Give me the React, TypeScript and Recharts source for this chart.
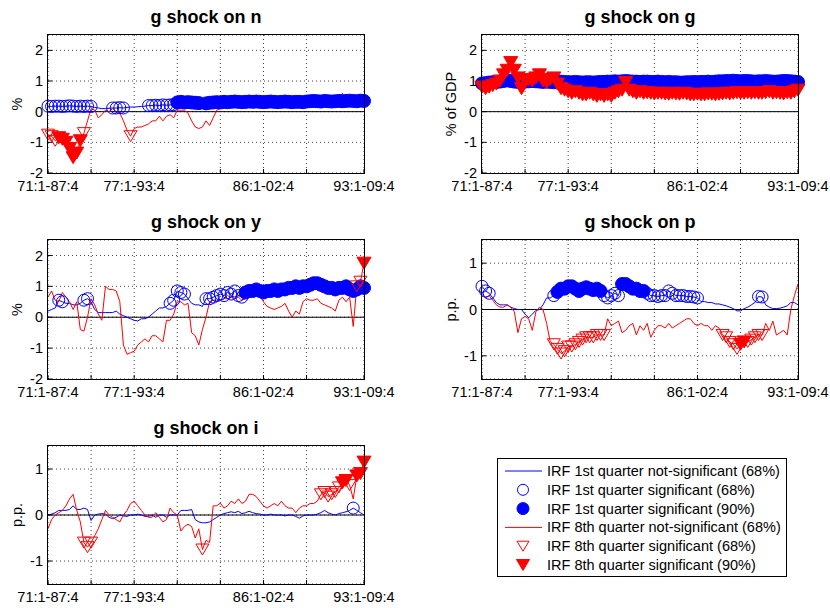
import React from 'react';
import { LineChart, Line, XAxis, YAxis, CartesianGrid, ReferenceLine } from 'recharts';

// Rolling windows 71:1-87:4 ... 93:1-09:4 (89 windows, one per quarter)
const windowIdx = Array.from({ length: 89 }, (_, i) => i);
const xTickIdx = [0, 12, 24, 36, 48, 60, 72, 88];
const xTickText = ['71:1-87:4', '', '77:1-93:4', '', '', '86:1-02:4', '', '93:1-09:4'];

// g shock on n
const nBlue = [
  0.18, 0.17, 0.18, 0.18, 0.17, 0.18, 0.19, 0.18, 0.17, 0.18,
  0.17, 0.18, 0.17, 0.14, 0.12, 0.1, 0.1, 0.11, 0.12, 0.12,
  0.13, 0.12, 0.14, 0.15, 0.15, 0.16, 0.17, 0.18, 0.2, 0.2,
  0.21, 0.2, 0.22, 0.21, 0.22, 0.23, 0.3, 0.32, 0.3, 0.31,
  0.3, 0.29, 0.28, 0.08, 0.27, 0.29, 0.3, 0.31, 0.3, 0.32,
  0.31, 0.32, 0.33, 0.32, 0.31, 0.32, 0.33, 0.32, 0.33, 0.32,
  0.31, 0.32, 0.33, 0.32, 0.31, 0.32, 0.33, 0.32, 0.31, 0.32,
  0.32, 0.31, 0.33, 0.34, 0.35, 0.34, 0.33, 0.35, 0.34, 0.33,
  0.34, 0.35, 0.34, 0.35, 0.36, 0.35, 0.34, 0.36, 0.35,
];
const nRed = [
  -0.75, -0.8, -0.95, -0.85, -0.9, -1.0, -1.2, -1.5, -1.35, -0.95,
  -0.7, -0.3, 0.1, 0.05, -0.2, -0.1, 0.05, 0.0, 0.1, 0.0,
  -0.05, -0.3, -0.6, -0.8, -0.55, -0.5, -0.5, -0.45, -0.4, -0.3,
  -0.3, -0.15, -0.3, -0.15, -0.1, -0.2, 0.05, 0.05, 0.05, -0.05,
  -0.3, -0.5, -0.55, -0.5, -0.3, -0.45, -0.2, 0.05, 0.1, 0.15,
  0.1, 0.2, 0.15, 0.15, 0.2, 0.1, 0.15, 0.15, 0.2, 0.15,
  0.2, 0.2, 0.22, 0.18, 0.2, 0.22, 0.25, 0.22, 0.2, 0.18,
  0.22, 0.2, 0.18, 0.2, 0.15, 0.15, 0.18, 0.38, 0.4, 0.3,
  0.32, 0.35, 0.6, 0.3, 0.35, 0.3, 0.2, 0.3, 0.45,
];

// g shock on g
const gBlue = [
  0.92, 0.93, 0.95, 0.96, 0.97, 0.98, 1.0, 1.02, 1.0, 0.98,
  0.97, 0.97, 0.98, 0.99, 1.0, 0.99, 0.98, 0.97, 0.98, 0.97,
  0.96, 0.97, 0.98, 0.97, 0.96, 0.96, 0.97, 0.96, 0.95, 0.96,
  0.96, 0.95, 0.96, 0.97, 0.97, 0.98, 0.98, 0.99, 0.98, 0.99,
  1.0, 0.99, 0.98, 0.98, 0.97, 0.98, 0.98, 0.97, 0.97, 0.98,
  0.97, 0.96, 0.97, 0.96, 0.96, 0.95, 0.95, 0.96, 0.96, 0.97,
  0.96, 0.97, 0.97, 0.98, 0.97, 0.98, 0.99, 0.99, 1.0, 1.0,
  1.01, 1.0, 0.99, 1.0, 1.0, 0.99, 0.98, 0.99, 0.99, 1.0,
  0.99, 0.98, 0.98, 0.99, 1.0, 1.0, 0.99, 0.98, 0.97,
];
const gRed = [
  0.8, 0.75, 0.8, 0.85, 0.9, 1.0, 1.2, 1.35, 1.6, 1.35,
  1.1, 0.75, 1.0, 1.05, 1.0, 1.1, 1.2, 1.0, 0.95, 1.05,
  1.1, 0.9, 0.75, 0.7, 0.65, 0.6, 0.65, 0.6, 0.55, 0.55,
  0.6, 0.55, 0.5, 0.55, 0.5, 0.55, 0.5, 0.6, 0.65, 0.7,
  0.95, 0.7, 0.65, 0.6, 0.65, 0.6, 0.62, 0.6, 0.58, 0.6,
  0.6, 0.58, 0.57, 0.6, 0.58, 0.57, 0.6, 0.58, 0.55, 0.55,
  0.57, 0.55, 0.55, 0.58, 0.57, 0.55, 0.57, 0.58, 0.6, 0.58,
  0.6, 0.62, 0.6, 0.6, 0.62, 0.6, 0.62, 0.6, 0.6, 0.62,
  0.65, 0.6, 0.62, 0.6, 0.58, 0.62, 0.6, 0.65, 0.7,
];

// g shock on y
const yBlue = [
  0.2, 0.25, 0.3, 0.55, 0.5, 0.45, 0.45, 0.4, 0.4, 0.45,
  0.55, 0.6, 0.5, 0.25, 0.15, 0.15, 0.15, 0.15, 0.15, 0.2,
  0.1, 0.05, 0.0, -0.05, -0.1, -0.12, -0.05, -0.05, 0.0, 0.1,
  0.2, 0.3, 0.3, 0.35, 0.45, 0.55, 0.85, 0.8, 0.75, 0.6,
  0.45, 0.4, 0.4, 0.35, 0.6, 0.6, 0.65, 0.7, 0.75, 0.7,
  0.8, 0.75, 0.85, 0.7, 0.65, 0.8, 0.85, 0.85, 0.9, 0.85,
  0.8, 0.85, 0.85, 0.9, 0.85, 0.9, 0.9, 0.95, 0.95, 1.0,
  0.95, 1.0, 1.0, 1.05, 1.1, 1.1, 1.05, 1.0, 0.95, 0.95,
  0.9, 0.95, 0.95, 1.0, 0.9, 0.85, 0.9, 1.0, 0.95,
];
const yRed = [
  0.65, 0.85, 0.55, 0.5, 0.8, 0.65, 0.5, 0.25, 0.5, -0.4,
  -0.45, 0.0, 0.6, 0.4, 0.1, -0.1, 1.0, 0.9, 0.9, 0.85,
  0.5, -0.9, -1.2, -1.15, -1.1, -0.9, -0.8, -0.7, -0.8, -0.6,
  -0.6, -0.7, -0.8, -0.1, -0.1, 0.1, 0.5, 0.5, 0.4, 0.45,
  -0.5, -0.6, -0.9, -0.4, 0.0, 0.5, 0.55, 0.55, 0.55, 0.6,
  0.7, 0.65, 0.6, 0.65, 0.55, 0.6, 0.75, 0.85, 0.8, 0.7,
  0.5, 0.35, 0.3, 0.25, 0.3, 0.35, 0.45, 0.2, 0.0, 0.2,
  0.1, 0.5, 0.6, 0.55, 0.55, 0.6, 0.45, 0.4, 0.35, 0.3,
  0.2, 0.55, 0.65, 0.5, 0.65, -0.3, 1.0, 1.15, 1.75,
];

// g shock on p
const pBlue = [
  0.5, 0.4, 0.35, 0.25, 0.15, 0.1, 0.1, 0.1, 0.05, 0.02,
  0.0, 0.0, -0.1, -0.18, -0.1, -0.02, 0.0, 0.1, 0.25, 0.25,
  0.3, 0.38, 0.45, 0.45, 0.5, 0.5, 0.45, 0.4, 0.45, 0.48,
  0.45, 0.42, 0.45, 0.4, 0.3, 0.25, 0.3, 0.35, 0.3, 0.55,
  0.55, 0.5, 0.45, 0.45, 0.4, 0.4, 0.35, 0.3, 0.3, 0.28,
  0.3, 0.3, 0.4, 0.35, 0.3, 0.3, 0.3, 0.28, 0.28, 0.27,
  0.25, 0.17, 0.17, 0.15, 0.15, 0.12, 0.12, 0.1, 0.08, 0.05,
  0.02, -0.03, -0.03, 0.02, 0.05, 0.1, 0.15, 0.28, 0.27, 0.1,
  0.05, 0.02, 0.02, 0.03, 0.05, 0.08, 0.15, 0.15, 0.1,
];
const pRed = [
  0.35, 0.25, 0.3, 0.2, 0.1, 0.05, 0.05, 0.1, 0.05, -0.05,
  -0.5, -0.2, -0.15, -0.2, -0.45, -0.05, 0.05, 0.0, -0.3, -0.7,
  -0.75, -0.85, -0.95, -0.9, -0.8, -0.8, -0.75, -0.7, -0.65, -0.6,
  -0.6, -0.6, -0.55, -0.55, -0.55, -0.2, -0.35, -0.3, -0.25, -0.5,
  -0.45, -0.35, -0.3, -0.55, -0.35, -0.45, -0.3, -0.6, -0.45, -0.35,
  -0.35, -0.4, -0.3, -0.4, -0.35, -0.3, -0.25, -0.2, -0.2, -0.3,
  -0.35, -0.3, -0.35, -0.35, -0.45, -0.35, -0.4, -0.55, -0.6, -0.7,
  -0.75, -0.85, -0.75, -0.7, -0.7, -0.65, -0.6, -0.55, -0.55, -0.3,
  -0.45, -0.25, -0.55, -0.5, -0.45, -0.55, 0.0, 0.3, 0.55,
];

// g shock on i
const iBlue = [
  0.0, 0.02, 0.05, 0.1, 0.1, 0.1, 0.12, 0.2, 0.12, 0.12,
  0.15, 0.12, -0.12, 0.0, 0.02, 0.03, 0.02, -0.05, -0.08, -0.05,
  0.0, -0.02, -0.03, 0.0, 0.0, 0.02, 0.0, -0.03, -0.03, 0.0,
  -0.05, 0.0, 0.0, -0.05, 0.0, 0.0, 0.0, 0.1, 0.1, 0.1,
  0.12, -0.1, -0.15, -0.17, -0.17, -0.15, -0.1, -0.05, 0.0, 0.03,
  0.05, 0.07, 0.05, 0.08, 0.03, 0.05, 0.08, 0.05, 0.03, 0.02,
  0.0, 0.0, 0.02, 0.0, 0.0, 0.0, -0.02, 0.0, 0.0, -0.03,
  -0.07, -0.02, 0.0, 0.0, 0.0, 0.02, 0.05, 0.1, 0.05, 0.02,
  0.0, 0.03, 0.05, 0.07, 0.1, 0.15, 0.1, 0.05, 0.0,
];
const iRed = [
  -0.3, -0.1, 0.0, 0.05, 0.1, 0.2, 0.35, 0.45, 0.1, -0.15,
  -0.6, -0.7, -0.6, -0.45, -0.3, -0.1, 0.1, 0.0, -0.05, -0.1,
  -0.15, 0.0, 0.1, 0.25, 0.3, 0.2, 0.1, 0.0, -0.05, -0.05,
  0.05, -0.05, -0.15, -0.1, 0.15, 0.05, 0.0, -0.35, -0.25, -0.2,
  -0.25, -0.5, -0.3, -0.75, -0.55, -0.6, 0.2, 0.2, 0.26, 0.15,
  0.2, 0.3, 0.25, 0.35, 0.25, 0.3, 0.45, 0.45, 0.4, 0.3,
  0.2, 0.15, 0.2, 0.25, 0.2, 0.3, 0.2, 0.15, 0.15, 0.05,
  0.15, 0.2, 0.2, 0.25, 0.25, 0.3, 0.45, 0.5, 0.4, 0.45,
  0.5, 0.6, 0.7, 0.75, 0.65, 0.35, 0.85, 0.9, 1.15,
];

// Windows where the IRF is significant, as [first, last] index ranges
type Ranges = [number, number][];
const nBlue68: Ranges = [[0, 12], [18, 21], [28, 35]];
const nBlue90: Ranges = [[36, 42], [44, 88]];
const nRed68: Ranges = [[0, 2], [10, 10], [23, 23]];
const nRed90: Ranges = [[3, 9]];
const gBlue68: Ranges = [];
const gBlue90: Ranges = [[0, 88]];
const gRed68: Ranges = [];
const gRed90: Ranges = [[0, 88]];
const yBlue68: Ranges = [[3, 4], [10, 11], [34, 38], [44, 54]];
const yBlue90: Ranges = [[55, 88]];
const yRed68: Ranges = [[86, 87]];
const yRed90: Ranges = [[88, 88]];
const pBlue68: Ranges = [[0, 2], [20, 20], [34, 38], [46, 60], [77, 78]];
const pBlue90: Ranges = [[21, 33], [39, 45]];
const pRed68: Ranges = [[20, 34], [67, 71], [74, 78]];
const pRed90: Ranges = [[72, 73]];
const iBlue68: Ranges = [[85, 85]];
const iBlue90: Ranges = [];
const iRed68: Ranges = [[10, 12], [43, 43], [76, 81], [84, 84]];
const iRed90: Ranges = [[82, 83], [86, 88]];

const BLUE = '#0000ff';
const RED = '#ff0000';
const FONT = '"Liberation Sans", Arial, Helvetica, sans-serif';

const levels = (r68: Ranges, r90: Ranges) => {
  const out = windowIdx.map(() => 0);
  r68.forEach(([a, b]) => { for (let k = a; k <= b; k++) out[k] = 1; });
  r90.forEach(([a, b]) => { for (let k = a; k <= b; k++) out[k] = 2; });
  return out;
};

const circleDot = (lv: number[]) => (props: any) => {
  const { cx, cy, index } = props;
  const s = lv[index];
  if (!s || cx == null || cy == null) return <g key={`c${index}`} />;
  if (s === 2) return <circle key={`c${index}`} cx={cx} cy={cy} r={6.5} fill={BLUE} stroke={BLUE} />;
  return <circle key={`c${index}`} cx={cx} cy={cy} r={6} fill="none" stroke={BLUE} strokeWidth={1} />;
};

const triPoints = (cx: number, cy: number, w: number, h: number) =>
  `${cx - w / 2},${cy - h / 2} ${cx + w / 2},${cy - h / 2} ${cx},${cy + h / 2}`;

const triangleDot = (lv: number[]) => (props: any) => {
  const { cx, cy, index } = props;
  const s = lv[index];
  if (!s || cx == null || cy == null) return <g key={`t${index}`} />;
  if (s === 2) return <polygon key={`t${index}`} points={triPoints(cx, cy, 14, 12)} fill={RED} stroke={RED} />;
  return <polygon key={`t${index}`} points={triPoints(cx, cy, 13, 11)} fill="none" stroke={RED} strokeWidth={1} />;
};

interface PanelSpec {
  title: string;
  yLabel: string;
  x: number;
  y: number;
  h: number;
  yDomain: [number, number];
  yTicks: number[];
  blue: number[];
  red: number[];
  blue68: Ranges;
  blue90: Ranges;
  red68: Ranges;
  red90: Ranges;
}

const PLOT_W = 316;
const PAD_L = 48;
const PAD_T = 35;
const PAD_R = 36;
const PAD_B = 30;
const AXIS_W = 40;
const AXIS_H = 24;

const panels: PanelSpec[] = [
  { title: 'g shock on n', yLabel: '%', x: 48, y: 35, h: 138, yDomain: [-2, 2.5], yTicks: [-2, -1, 0, 1, 2],
    blue: nBlue, red: nRed, blue68: nBlue68, blue90: nBlue90, red68: nRed68, red90: nRed90 },
  { title: 'g shock on g', yLabel: '% of GDP', x: 482, y: 35, h: 138, yDomain: [-2, 2.5], yTicks: [-2, -1, 0, 1, 2],
    blue: gBlue, red: gRed, blue68: gBlue68, blue90: gBlue90, red68: gRed68, red90: gRed90 },
  { title: 'g shock on y', yLabel: '%', x: 48, y: 240, h: 139, yDomain: [-2, 2.5], yTicks: [-2, -1, 0, 1, 2],
    blue: yBlue, red: yRed, blue68: yBlue68, blue90: yBlue90, red68: yRed68, red90: yRed90 },
  { title: 'g shock on p', yLabel: 'p.p.', x: 482, y: 240, h: 139, yDomain: [-1.5, 1.5], yTicks: [-1, 0, 1],
    blue: pBlue, red: pRed, blue68: pBlue68, blue90: pBlue90, red68: pRed68, red90: pRed90 },
  { title: 'g shock on i', yLabel: 'p.p.', x: 48, y: 446, h: 138, yDomain: [-1.5, 1.5], yTicks: [-1, 0, 1],
    blue: iBlue, red: iRed, blue68: iBlue68, blue90: iBlue90, red68: iRed68, red90: iRed90 },
];

const legendRows = [
  { kind: 'line', color: BLUE, text: 'IRF 1st quarter not-significant (68%)' },
  { kind: 'circle', color: BLUE, text: 'IRF 1st quarter significant (68%)' },
  { kind: 'disc', color: BLUE, text: 'IRF 1st quarter significant (90%)' },
  { kind: 'line', color: RED, text: 'IRF 8th quarter not-significant (68%)' },
  { kind: 'tri', color: RED, text: 'IRF 8th quarter significant (68%)' },
  { kind: 'filledTri', color: RED, text: 'IRF 8th quarter significant (90%)' },
];

const Panel = ({ spec }: { spec: PanelSpec }) => {
  const data = windowIdx.map((i) => ({ i, blue: spec.blue[i], red: spec.red[i] }));
  const blueLv = levels(spec.blue68, spec.blue90);
  const redLv = levels(spec.red68, spec.red90);
  const tickStyle = { fontSize: 14.5, fill: '#000', fontFamily: FONT };

  return (
    <div style={{ position: 'absolute', left: spec.x - PAD_L, top: spec.y - PAD_T }}>
      <LineChart
        width={PLOT_W + PAD_L + PAD_R}
        height={spec.h + PAD_T + PAD_B}
        data={data}
        margin={{ top: PAD_T, right: PAD_R, bottom: PAD_B - AXIS_H, left: PAD_L - AXIS_W }}
      >
        <CartesianGrid stroke="#444" strokeDasharray="1 3" />
        {/* short inward ticks, as on a boxed axes */}
        <XAxis
          dataKey="i"
          type="number"
          domain={[0, 88]}
          ticks={xTickIdx}
          interval={0}
          height={AXIS_H}
          tickLine={{ stroke: '#000' }}
          axisLine={false}
          tickSize={-4}
          tickMargin={12}
          tick={tickStyle}
          tickFormatter={(v: number) => xTickText[xTickIdx.indexOf(v)] ?? ''}
        />
        <YAxis
          type="number"
          domain={spec.yDomain}
          ticks={spec.yTicks}
          interval={0}
          width={AXIS_W}
          tickLine={{ stroke: '#000' }}
          axisLine={false}
          tickSize={-4}
          tickMargin={9}
          tick={tickStyle}
        />
        <ReferenceLine y={0} stroke="#000" strokeWidth={1} />
        <Line
          dataKey="blue"
          stroke={BLUE}
          strokeWidth={1}
          dot={circleDot(blueLv)}
          activeDot={false}
          isAnimationActive={false}
        />
        <Line
          dataKey="red"
          stroke={RED}
          strokeWidth={1}
          dot={triangleDot(redLv)}
          activeDot={false}
          isAnimationActive={false}
        />
      </LineChart>
    </div>
  );
};

const LegendMarker = ({ kind, color, cx, cy }: { kind: string; color: string; cx: number; cy: number }) => {
  if (kind === 'line') return <line x1={cx - 18} x2={cx + 19} y1={cy} y2={cy} stroke={color} strokeWidth={1} />;
  if (kind === 'circle') return <circle cx={cx} cy={cy} r={5.5} fill="none" stroke={color} />;
  if (kind === 'disc') return <circle cx={cx} cy={cy} r={6} fill={color} stroke={color} />;
  if (kind === 'tri') return <polygon points={triPoints(cx, cy, 12, 10)} fill="none" stroke={color} />;
  return <polygon points={triPoints(cx, cy, 13, 11)} fill={color} stroke={color} />;
};

export default function App() {
  return (
    <div style={{ position: 'absolute', left: 0, top: 0, width: 830, height: 608, overflow: 'hidden', background: '#fff', fontFamily: FONT }}>
      {panels.map((p) => <Panel key={p.title} spec={p} />)}
      <svg width={830} height={608} style={{ position: 'absolute', left: 0, top: 0, pointerEvents: 'none' }} fontFamily={FONT}>
        {panels.map((p) => (
          <g key={p.title}>
            <rect x={p.x - 0.5} y={p.y - 0.5} width={PLOT_W + 1} height={p.h + 1} fill="none" stroke="#000" strokeWidth={1} />
            <text x={p.x + PLOT_W / 2} y={p.y - 12} textAnchor="middle" fontWeight="bold" fontSize={18} fill="#000">{p.title}</text>
            <text transform={`translate(${p.x - 26},${p.y + p.h / 2}) rotate(-90)`} textAnchor="middle" fontSize={14.5} fill="#000">{p.yLabel}</text>
          </g>
        ))}
        <rect x={497.5} y={458.5} width={289} height={118} fill="#fff" stroke="#000" strokeWidth={1} />
        {legendRows.map((row, k) => {
          const cy = 471 + k * 18.8;
          return (
            <g key={row.text}>
              <LegendMarker kind={row.kind} color={row.color} cx={523} cy={cy} />
              <text x={547} y={cy + 5} fontSize={14.5} fill="#000">{row.text}</text>
            </g>
          );
        })}
      </svg>
    </div>
  );
}
